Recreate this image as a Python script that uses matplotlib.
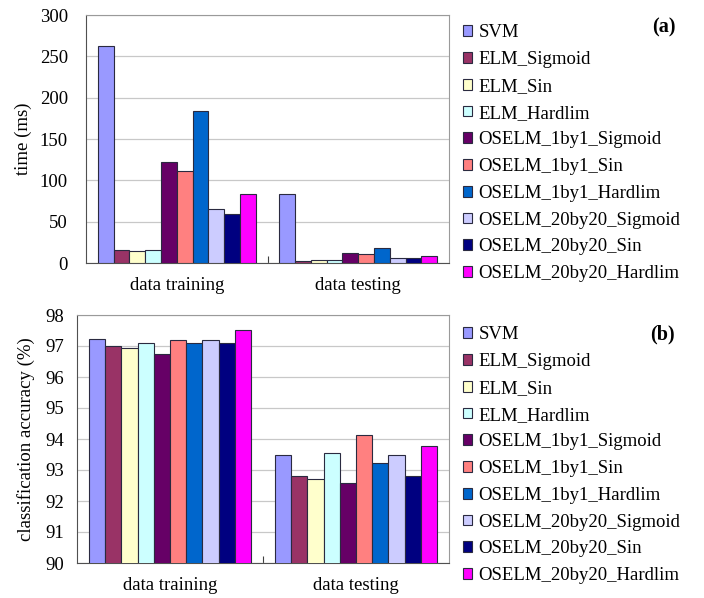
import matplotlib.pyplot as plt
import numpy as np
from matplotlib.patches import Patch

plt.rcParams["font.family"] = ["Liberation Serif", "DejaVu Serif"]

groups = ["data training", "data testing"]
methods = [
    "SVM",
    "ELM_Sigmoid",
    "ELM_Sin",
    "ELM_Hardlim",
    "OSELM_1by1_Sigmoid",
    "OSELM_1by1_Sin",
    "OSELM_1by1_Hardlim",
    "OSELM_20by20_Sigmoid",
    "OSELM_20by20_Sin",
    "OSELM_20by20_Hardlim",
]
colors = [
    "#9999FF", "#993366", "#FFFFCC", "#CCFFFF", "#660066",
    "#FF8080", "#0066CC", "#CCCCFF", "#000080", "#FF00FF",
]

# time in ms, one list per group (training, testing)
time_training = [263, 16, 15, 16, 122, 111, 184, 65, 59, 83]
time_testing = [83, 3, 4, 4, 12.5, 11, 18, 6.5, 6, 8]

# classification accuracy in %
acc_training = [97.21, 97.0, 96.92, 97.09, 96.75, 97.18, 97.09, 97.18, 97.1, 97.53]
acc_testing = [93.5, 92.8, 92.72, 93.55, 92.58, 94.14, 93.24, 93.48, 92.8, 93.77]

FS = 13.5
W = 1 / (len(methods) + 1.5)
EDGE = "#2a2a40"


def draw_panel(ax, train, test, ylim, yticks, ylabel, tag, tick_pad,
               label_x, legend_xy, tag_xy):
    x = np.arange(len(groups))
    for i, m in enumerate(methods):
        off = (i - (len(methods) - 1) / 2) * W
        ax.bar(x + off, [train[i], test[i]], W, bottom=0,
               color=colors[i], edgecolor=EDGE, linewidth=0.8,
               zorder=3, label=m)
    ax.set_xlim(-0.5, 1.5)
    ax.set_ylim(*ylim)
    ax.set_yticks(yticks)
    # only the separator tick between the two groups
    ax.set_xticks([0.5])
    ax.set_xticklabels([""])
    ax.tick_params(axis="x", direction="in", length=5, color="#404040")
    ax.tick_params(axis="y", length=0, labelsize=FS, pad=tick_pad)
    for xi, g in zip(x, groups):
        ax.text(xi, -0.09, g, transform=ax.get_xaxis_transform(),
                ha="center", va="center", fontsize=FS)
    ax.grid(axis="y", color="#c8c8c8", linewidth=0.9, zorder=0)
    for side in ["top", "right"]:
        ax.spines[side].set_color("#9a9a9a")
    ax.spines["left"].set_color("#505050")
    ax.spines["bottom"].set_color("#505050")
    ax.set_ylabel(ylabel, fontsize=FS)
    ax.yaxis.set_label_coords(label_x, 0.5)
    handles = [Patch(facecolor=c, edgecolor=EDGE, linewidth=0.8) for c in colors]
    ax.legend(handles, methods, loc="upper left", bbox_to_anchor=legend_xy,
              frameon=False, fontsize=FS, handlelength=0.5, handleheight=0.5,
              handletextpad=0.32, labelspacing=0.52, borderaxespad=0,
              borderpad=0)
    ax.text(*tag_xy, tag, transform=ax.transAxes, ha="right", va="top",
            fontsize=FS + 1, fontweight="bold")


fig = plt.figure(figsize=(7.04, 5.98), dpi=100)
ax1 = fig.add_axes([86 / 704, 1 - 263 / 598, 363 / 704, 248 / 598])
ax2 = fig.add_axes([77 / 704, 1 - 563 / 598, 372 / 704, 248 / 598])

draw_panel(ax1, time_training, time_testing, (0, 300), range(0, 301, 50),
           "time (ms)", "(a)", 13, -0.149, (1.0386, 0.962), (1.623, 0.988))
draw_panel(ax2, acc_training, acc_testing, (90, 98), range(90, 99),
           "classification accuracy (%)", "(b)", 9.5, -0.113,
           (1.0376, 0.954), (1.608, 0.96))

fig.savefig("out.png", dpi=100)
